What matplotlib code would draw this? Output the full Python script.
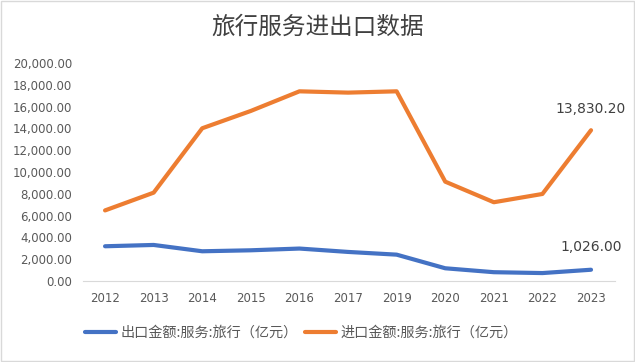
import matplotlib.pyplot as plt
from matplotlib.patches import Rectangle
from matplotlib.ticker import FuncFormatter

plt.rcParams['font.family'] = ['Noto Sans CJK SC', 'DejaVu Sans']

# data
years = ['2012', '2013', '2014', '2015', '2016', '2017', '2019', '2020', '2021', '2022', '2023']
export_vals = [3180, 3300, 2720, 2810, 2970, 2660, 2410, 1160, 800, 720, 1026.00]
import_vals = [6470, 8100, 14010, 15600, 17400, 17280, 17400, 9110, 7220, 7980, 13830.20]

blue = '#4472C4'
orange = '#ED7D31'
grey = '#595959'

fig = plt.figure(figsize=(6.35, 3.62), dpi=100)
ax = fig.add_axes([0.131, 0.224, 0.838, 0.602])

x = range(len(years))
ax.plot(x, export_vals, color=blue, linewidth=3, solid_capstyle='round',
        label='出口金额:服务:旅行（亿元）')
ax.plot(x, import_vals, color=orange, linewidth=3, solid_capstyle='round',
        label='进口金额:服务:旅行（亿元）')

# labels on the last points
ax.annotate(f'{import_vals[-1]:,.2f}', (x[-1], import_vals[-1]), xytext=(0, 10),
            textcoords='offset points', ha='center', va='bottom',
            fontsize=10, color='#404040', family='DejaVu Sans')
ax.annotate(f'{export_vals[-1]:,.2f}', (x[-1], export_vals[-1]), xytext=(0, 11),
            textcoords='offset points', ha='center', va='bottom',
            fontsize=10, color='#404040', family='DejaVu Sans')

ax.set_xlim(-0.45, 10.5)
ax.set_ylim(0, 20000)
ax.set_yticks(range(0, 20001, 2000))
ax.yaxis.set_major_formatter(FuncFormatter(lambda v, p: f'{v:,.2f}'))
ax.set_xticks(list(x))
ax.set_xticklabels(years)
ax.tick_params(length=0, labelsize=8.5, colors=grey, pad=8)
for lab in ax.get_xticklabels() + ax.get_yticklabels():
    lab.set_family('DejaVu Sans')

for s in ['top', 'right', 'left']:
    ax.spines[s].set_visible(False)
ax.spines['bottom'].set_color('#D9D9D9')

fig.text(0.5, 0.925, '旅行服务进出口数据', ha='center', va='center',
         fontsize=17, color='#404040', fontweight='medium')

fig.legend(loc='center left', bbox_to_anchor=(0.134, 0.08), ncol=2, frameon=False,
           fontsize=10.2, labelcolor=grey, handlelength=2.2, handletextpad=0.3,
           columnspacing=0.5, borderaxespad=0, borderpad=0)

fig.add_artist(Rectangle((0.002, 0.003), 0.996, 0.994, transform=fig.transFigure,
                         fill=False, edgecolor='#D9D9D9', linewidth=1))

fig.savefig('out.png', dpi=100)
